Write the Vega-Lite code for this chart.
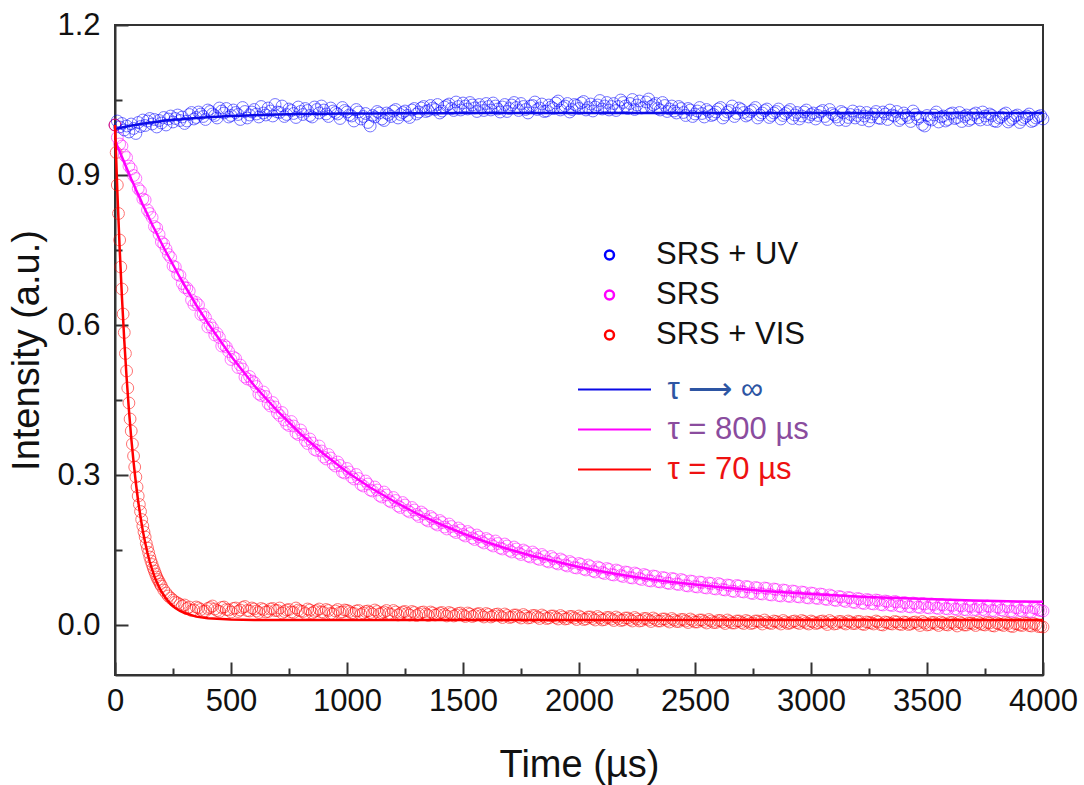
{
  "$schema": "https://vega.github.io/schema/vega-lite/v6.json",
  "width": 928,
  "height": 650,
  "autosize": "none",
  "padding": {"left": 115, "top": 25, "right": 41, "bottom": 110},
  "background": "white",
  "config": {
    "view": {"stroke": "#333333", "strokeWidth": 2},
    "font": "Liberation Sans",
    "axis": {"labelFont": "Liberation Sans", "titleFont": "Liberation Sans", "labelColor": "#111111", "titleColor": "#111111", "titleFontWeight": "normal", "grid": false, "domainColor": "#333333", "domainWidth": 2, "tickColor": "#333333", "tickWidth": 2, "labelFontSize": 31, "titleFontSize": 38},
    "legend": {"labelFont": "Liberation Sans", "labelFontSize": 31, "padding": 0}
  },
  "datasets": {
    "pts": [
      {"t":0,"b":1.000,"m":1.000,"r":1.000},
      {"t":5,"r":0.945},
      {"t":10,"b":1.008,"m":0.975,"r":0.880},
      {"t":15,"r":0.823},
      {"t":20,"b":0.996,"m":0.962,"r":0.770},
      {"t":25,"r":0.716},
      {"t":30,"b":1.003,"m":0.958,"r":0.672},
      {"t":35,"r":0.622},
      {"t":40,"b":0.990,"m":0.940,"r":0.585},
      {"t":45,"r":0.543},
      {"t":50,"b":0.998,"m":0.935,"r":0.508},
      {"t":55,"r":0.474},
      {"t":60,"b":0.986,"m":0.918,"r":0.444},
      {"t":65,"r":0.412},
      {"t":70,"b":1.002,"m":0.912,"r":0.388},
      {"t":75,"r":0.362},
      {"t":80,"b":0.993,"m":0.899,"r":0.338},
      {"t":85,"r":0.316},
      {"t":90,"b":0.983,"m":0.893,"r":0.296},
      {"t":95,"r":0.276},
      {"t":100,"b":1.005,"m":0.873,"r":0.258},
      {"t":105,"r":0.241},
      {"t":110,"b":0.997,"m":0.868,"r":0.227},
      {"t":115,"r":0.211},
      {"t":120,"b":1.010,"m":0.852,"r":0.198},
      {"t":125,"r":0.186},
      {"t":130,"b":0.999,"m":0.850,"r":0.176},
      {"t":135,"r":0.163},
      {"t":140,"b":1.008,"m":0.830,"r":0.154},
      {"t":145,"r":0.145},
      {"t":150,"b":1.013,"m":0.823,"r":0.136},
      {"t":155,"r":0.128},
      {"t":160,"b":1.002,"m":0.815,"r":0.121},
      {"t":165,"r":0.114},
      {"t":170,"b":1.011,"m":0.797,"r":0.108},
      {"t":175,"r":0.102},
      {"t":180,"b":0.996,"m":0.794,"r":0.096},
      {"t":185,"r":0.091},
      {"t":190,"b":1.009,"m":0.781,"r":0.087},
      {"t":195,"r":0.082},
      {"t":200,"b":1.004,"m":0.766,"r":0.078},
      {"t":210,"b":1.015,"m":0.762,"r":0.070},
      {"t":220,"b":1.000,"m":0.752,"r":0.064},
      {"t":230,"b":1.012,"m":0.741,"r":0.058},
      {"t":240,"b":1.018,"m":0.735,"r":0.054},
      {"t":250,"b":1.006,"m":0.718,"r":0.050},
      {"t":260,"b":1.013,"m":0.716,"r":0.046},
      {"t":270,"b":1.020,"m":0.701,"r":0.044},
      {"t":280,"b":1.009,"m":0.699,"r":0.041},
      {"t":290,"b":1.016,"m":0.683,"r":0.038},
      {"t":300,"b":1.003,"m":0.675,"r":0.040},
      {"t":320,"b":1.021,"m":0.668,"r":0.036},
      {"t":340,"b":1.012,"m":0.641,"r":0.030},
      {"t":360,"b":1.026,"m":0.640,"r":0.034},
      {"t":380,"b":1.017,"m":0.622,"r":0.027},
      {"t":400,"b":1.030,"m":0.596,"r":0.033},
      {"t":420,"b":1.022,"m":0.594,"r":0.038},
      {"t":440,"b":1.014,"m":0.583,"r":0.029},
      {"t":460,"b":1.028,"m":0.558,"r":0.035},
      {"t":480,"b":1.033,"m":0.556,"r":0.031},
      {"t":500,"b":1.019,"m":0.531,"r":0.026},
      {"t":520,"b":1.025,"m":0.533,"r":0.034},
      {"t":540,"b":1.011,"m":0.520,"r":0.030},
      {"t":560,"b":1.027,"m":0.496,"r":0.037},
      {"t":580,"b":1.020,"m":0.497,"r":0.028},
      {"t":600,"b":1.031,"m":0.485,"r":0.032},
      {"t":620,"b":1.016,"m":0.462,"r":0.025},
      {"t":640,"b":1.024,"m":0.466,"r":0.031},
      {"t":660,"b":1.034,"m":0.443,"r":0.027},
      {"t":680,"b":1.018,"m":0.445,"r":0.033},
      {"t":700,"b":1.026,"m":0.424,"r":0.029},
      {"t":720,"b":1.038,"m":0.425,"r":0.024},
      {"t":740,"b":1.021,"m":0.402,"r":0.030},
      {"t":760,"b":1.029,"m":0.407,"r":0.026},
      {"t":780,"b":1.015,"m":0.384,"r":0.034},
      {"t":800,"b":1.027,"m":0.390,"r":0.028},
      {"t":820,"b":1.033,"m":0.369,"r":0.023},
      {"t":840,"b":1.019,"m":0.372,"r":0.030},
      {"t":860,"b":1.036,"m":0.351,"r":0.027},
      {"t":880,"b":1.024,"m":0.358,"r":0.032},
      {"t":900,"b":1.030,"m":0.336,"r":0.025},
      {"t":920,"b":1.017,"m":0.341,"r":0.029},
      {"t":940,"b":1.028,"m":0.322,"r":0.022},
      {"t":960,"b":1.022,"m":0.326,"r":0.031},
      {"t":980,"b":1.035,"m":0.306,"r":0.026},
      {"t":1000,"b":1.026,"m":0.313,"r":0.029},
      {"t":1020,"b":1.018,"m":0.296,"r":0.024},
      {"t":1040,"b":1.031,"m":0.301,"r":0.028},
      {"t":1060,"b":1.012,"m":0.281,"r":0.021},
      {"t":1080,"b":1.023,"m":0.288,"r":0.027},
      {"t":1100,"b":0.998,"m":0.270,"r":0.025},
      {"t":1120,"b":1.016,"m":0.276,"r":0.030},
      {"t":1140,"b":1.024,"m":0.259,"r":0.022},
      {"t":1160,"b":1.009,"m":0.266,"r":0.026},
      {"t":1180,"b":1.021,"m":0.249,"r":0.023},
      {"t":1200,"b":1.028,"m":0.255,"r":0.029},
      {"t":1220,"b":1.014,"m":0.238,"r":0.020},
      {"t":1240,"b":1.025,"m":0.245,"r":0.026},
      {"t":1260,"b":1.019,"m":0.229,"r":0.023},
      {"t":1280,"b":1.030,"m":0.235,"r":0.027},
      {"t":1300,"b":1.022,"m":0.221,"r":0.019},
      {"t":1320,"b":1.034,"m":0.226,"r":0.025},
      {"t":1340,"b":1.027,"m":0.211,"r":0.022},
      {"t":1360,"b":1.039,"m":0.217,"r":0.026},
      {"t":1380,"b":1.031,"m":0.203,"r":0.020},
      {"t":1400,"b":1.024,"m":0.209,"r":0.024},
      {"t":1420,"b":1.036,"m":0.196,"r":0.021},
      {"t":1440,"b":1.042,"m":0.202,"r":0.025},
      {"t":1460,"b":1.029,"m":0.188,"r":0.018},
      {"t":1480,"b":1.037,"m":0.194,"r":0.023},
      {"t":1500,"b":1.044,"m":0.181,"r":0.020},
      {"t":1520,"b":1.032,"m":0.187,"r":0.024},
      {"t":1540,"b":1.040,"m":0.174,"r":0.017},
      {"t":1560,"b":1.027,"m":0.180,"r":0.022},
      {"t":1580,"b":1.035,"m":0.167,"r":0.019},
      {"t":1600,"b":1.043,"m":0.173,"r":0.023},
      {"t":1620,"b":1.030,"m":0.161,"r":0.016},
      {"t":1640,"b":1.038,"m":0.168,"r":0.021},
      {"t":1660,"b":1.026,"m":0.154,"r":0.018},
      {"t":1680,"b":1.041,"m":0.162,"r":0.022},
      {"t":1700,"b":1.033,"m":0.149,"r":0.015},
      {"t":1720,"b":1.045,"m":0.156,"r":0.020},
      {"t":1740,"b":1.029,"m":0.144,"r":0.017},
      {"t":1760,"b":1.037,"m":0.150,"r":0.021},
      {"t":1780,"b":1.024,"m":0.138,"r":0.014},
      {"t":1800,"b":1.039,"m":0.146,"r":0.019},
      {"t":1820,"b":1.031,"m":0.133,"r":0.016},
      {"t":1840,"b":1.042,"m":0.141,"r":0.020},
      {"t":1860,"b":1.028,"m":0.128,"r":0.013},
      {"t":1880,"b":1.036,"m":0.137,"r":0.018},
      {"t":1900,"b":1.044,"m":0.124,"r":0.015},
      {"t":1920,"b":1.030,"m":0.132,"r":0.019},
      {"t":1940,"b":1.038,"m":0.120,"r":0.012},
      {"t":1960,"b":1.026,"m":0.127,"r":0.017},
      {"t":1980,"b":1.041,"m":0.115,"r":0.014},
      {"t":2000,"b":1.033,"m":0.123,"r":0.018},
      {"t":2020,"b":1.047,"m":0.112,"r":0.011},
      {"t":2040,"b":1.035,"m":0.120,"r":0.016},
      {"t":2060,"b":1.028,"m":0.108,"r":0.013},
      {"t":2080,"b":1.040,"m":0.116,"r":0.017},
      {"t":2100,"b":1.032,"m":0.105,"r":0.010},
      {"t":2120,"b":1.045,"m":0.113,"r":0.015},
      {"t":2140,"b":1.037,"m":0.101,"r":0.012},
      {"t":2160,"b":1.029,"m":0.110,"r":0.016},
      {"t":2180,"b":1.050,"m":0.099,"r":0.009},
      {"t":2200,"b":1.038,"m":0.106,"r":0.014},
      {"t":2220,"b":1.043,"m":0.095,"r":0.011},
      {"t":2240,"b":1.031,"m":0.104,"r":0.015},
      {"t":2260,"b":1.048,"m":0.093,"r":0.008},
      {"t":2280,"b":1.036,"m":0.101,"r":0.013},
      {"t":2300,"b":1.052,"m":0.089,"r":0.010},
      {"t":2320,"b":1.040,"m":0.098,"r":0.014},
      {"t":2340,"b":1.033,"m":0.087,"r":0.008},
      {"t":2360,"b":1.045,"m":0.095,"r":0.012},
      {"t":2380,"b":1.027,"m":0.084,"r":0.009},
      {"t":2400,"b":1.038,"m":0.093,"r":0.013},
      {"t":2420,"b":1.024,"m":0.082,"r":0.007},
      {"t":2440,"b":1.033,"m":0.091,"r":0.011},
      {"t":2460,"b":1.019,"m":0.079,"r":0.008},
      {"t":2480,"b":1.030,"m":0.088,"r":0.012},
      {"t":2500,"b":1.022,"m":0.077,"r":0.006},
      {"t":2520,"b":1.035,"m":0.086,"r":0.010},
      {"t":2540,"b":1.016,"m":0.075,"r":0.007},
      {"t":2560,"b":1.027,"m":0.084,"r":0.011},
      {"t":2580,"b":1.021,"m":0.073,"r":0.005},
      {"t":2600,"b":1.032,"m":0.083,"r":0.009},
      {"t":2620,"b":1.014,"m":0.071,"r":0.006},
      {"t":2640,"b":1.026,"m":0.080,"r":0.010},
      {"t":2660,"b":1.038,"m":0.068,"r":0.004},
      {"t":2680,"b":1.023,"m":0.079,"r":0.008},
      {"t":2700,"b":1.031,"m":0.067,"r":0.005},
      {"t":2720,"b":1.018,"m":0.077,"r":0.009},
      {"t":2740,"b":1.027,"m":0.064,"r":0.003},
      {"t":2760,"b":1.035,"m":0.075,"r":0.008},
      {"t":2780,"b":1.020,"m":0.063,"r":0.006},
      {"t":2800,"b":1.029,"m":0.074,"r":0.010},
      {"t":2820,"b":1.015,"m":0.061,"r":0.004},
      {"t":2840,"b":1.024,"m":0.072,"r":0.008},
      {"t":2860,"b":1.032,"m":0.059,"r":0.005},
      {"t":2880,"b":1.019,"m":0.070,"r":0.009},
      {"t":2900,"b":1.027,"m":0.058,"r":0.003},
      {"t":2920,"b":1.013,"m":0.068,"r":0.007},
      {"t":2940,"b":1.025,"m":0.057,"r":0.005},
      {"t":2960,"b":1.018,"m":0.066,"r":0.009},
      {"t":2980,"b":1.030,"m":0.055,"r":0.004},
      {"t":3000,"b":1.021,"m":0.064,"r":0.008},
      {"t":3020,"b":1.012,"m":0.054,"r":0.003},
      {"t":3040,"b":1.026,"m":0.062,"r":0.007},
      {"t":3060,"b":1.017,"m":0.052,"r":0.005},
      {"t":3080,"b":1.031,"m":0.060,"r":0.009},
      {"t":3100,"b":1.020,"m":0.050,"r":0.002},
      {"t":3120,"b":1.010,"m":0.057,"r":0.007},
      {"t":3140,"b":1.024,"m":0.049,"r":0.004},
      {"t":3160,"b":1.015,"m":0.055,"r":0.008},
      {"t":3180,"b":1.028,"m":0.046,"r":0.003},
      {"t":3200,"b":1.019,"m":0.053,"r":0.007},
      {"t":3220,"b":1.011,"m":0.044,"r":0.002},
      {"t":3240,"b":1.025,"m":0.051,"r":0.006},
      {"t":3260,"b":1.016,"m":0.043,"r":0.004},
      {"t":3280,"b":1.027,"m":0.050,"r":0.008},
      {"t":3300,"b":1.013,"m":0.041,"r":0.001},
      {"t":3320,"b":1.022,"m":0.048,"r":0.006},
      {"t":3340,"b":1.030,"m":0.040,"r":0.003},
      {"t":3360,"b":1.018,"m":0.047,"r":0.007},
      {"t":3380,"b":1.009,"m":0.038,"r":0.002},
      {"t":3400,"b":1.024,"m":0.045,"r":0.006},
      {"t":3420,"b":1.015,"m":0.037,"r":0.001},
      {"t":3440,"b":1.028,"m":0.044,"r":0.005},
      {"t":3460,"b":1.012,"m":0.036,"r":0.003},
      {"t":3480,"b":1.001,"m":0.043,"r":0.007},
      {"t":3500,"b":1.019,"m":0.035,"r":0.000},
      {"t":3520,"b":1.010,"m":0.042,"r":0.005},
      {"t":3540,"b":1.026,"m":0.034,"r":0.002},
      {"t":3560,"b":1.016,"m":0.041,"r":0.006},
      {"t":3580,"b":1.008,"m":0.033,"r":0.001},
      {"t":3600,"b":1.022,"m":0.040,"r":0.005},
      {"t":3620,"b":1.013,"m":0.032,"r":0.002},
      {"t":3640,"b":1.025,"m":0.039,"r":0.006},
      {"t":3660,"b":1.017,"m":0.031,"r":0.000},
      {"t":3680,"b":1.009,"m":0.038,"r":0.004},
      {"t":3700,"b":1.021,"m":0.030,"r":0.002},
      {"t":3720,"b":1.014,"m":0.037,"r":0.006},
      {"t":3740,"b":1.026,"m":0.031,"r":0.001},
      {"t":3760,"b":1.011,"m":0.038,"r":0.005},
      {"t":3780,"b":1.019,"m":0.029,"r":-0.001},
      {"t":3800,"b":1.007,"m":0.036,"r":0.004},
      {"t":3820,"b":1.016,"m":0.030,"r":0.001},
      {"t":3840,"b":1.024,"m":0.037,"r":0.005},
      {"t":3860,"b":1.010,"m":0.028,"r":-0.002},
      {"t":3880,"b":1.018,"m":0.035,"r":0.003},
      {"t":3900,"b":1.005,"m":0.029,"r":0.000},
      {"t":3920,"b":1.015,"m":0.036,"r":0.004},
      {"t":3940,"b":1.022,"m":0.027,"r":-0.001},
      {"t":3960,"b":1.009,"m":0.034,"r":0.003},
      {"t":3980,"b":1.017,"m":0.030,"r":-0.003},
      {"t":4000,"b":1.012,"m":0.028,"r":-0.004},
      {"t":310,"b":1.008,"m":0.674,"r":0.033},
      {"t":330,"b":1.025,"m":0.650,"r":0.029},
      {"t":350,"b":1.015,"m":0.645,"r":0.036},
      {"t":370,"b":1.022,"m":0.621,"r":0.031},
      {"t":390,"b":1.011,"m":0.615,"r":0.028},
      {"t":410,"b":1.027,"m":0.601,"r":0.035},
      {"t":430,"b":1.019,"m":0.580,"r":0.032},
      {"t":450,"b":1.034,"m":0.575,"r":0.027},
      {"t":470,"b":1.024,"m":0.560,"r":0.036},
      {"t":490,"b":1.016,"m":0.547,"r":0.030},
      {"t":510,"b":1.030,"m":0.536,"r":0.033},
      {"t":530,"b":1.021,"m":0.515,"r":0.027},
      {"t":550,"b":1.035,"m":0.512,"r":0.035},
      {"t":570,"b":1.014,"m":0.492,"r":0.029},
      {"t":590,"b":1.026,"m":0.488,"r":0.034},
      {"t":610,"b":1.022,"m":0.477,"r":0.028},
      {"t":630,"b":1.037,"m":0.459,"r":0.033},
      {"t":650,"b":1.020,"m":0.457,"r":0.026},
      {"t":670,"b":1.028,"m":0.438,"r":0.032},
      {"t":690,"b":1.041,"m":0.436,"r":0.029},
      {"t":710,"b":1.025,"m":0.419,"r":0.034},
      {"t":730,"b":1.017,"m":0.410,"r":0.027},
      {"t":750,"b":1.032,"m":0.399,"r":0.031},
      {"t":770,"b":1.023,"m":0.398,"r":0.025},
      {"t":790,"b":1.036,"m":0.381,"r":0.030},
      {"t":810,"b":1.021,"m":0.381,"r":0.027},
      {"t":830,"b":1.029,"m":0.363,"r":0.032},
      {"t":850,"b":1.016,"m":0.364,"r":0.024},
      {"t":870,"b":1.031,"m":0.349,"r":0.029},
      {"t":890,"b":1.038,"m":0.348,"r":0.026},
      {"t":910,"b":1.022,"m":0.332,"r":0.031},
      {"t":930,"b":1.034,"m":0.334,"r":0.023},
      {"t":950,"b":1.025,"m":0.318,"r":0.028},
      {"t":970,"b":1.013,"m":0.319,"r":0.025},
      {"t":990,"b":1.029,"m":0.304,"r":0.030},
      {"t":1010,"b":1.020,"m":0.306,"r":0.027},
      {"t":1030,"b":1.008,"m":0.292,"r":0.023},
      {"t":1050,"b":1.026,"m":0.293,"r":0.029},
      {"t":1070,"b":1.017,"m":0.278,"r":0.024},
      {"t":1090,"b":1.005,"m":0.282,"r":0.028},
      {"t":1110,"b":1.019,"m":0.268,"r":0.022},
      {"t":1130,"b":1.027,"m":0.270,"r":0.027},
      {"t":1150,"b":1.012,"m":0.256,"r":0.024},
      {"t":1170,"b":1.024,"m":0.260,"r":0.029},
      {"t":1190,"b":1.017,"m":0.246,"r":0.021},
      {"t":1210,"b":1.031,"m":0.249,"r":0.026},
      {"t":1230,"b":1.021,"m":0.235,"r":0.023},
      {"t":1250,"b":1.028,"m":0.240,"r":0.027},
      {"t":1270,"b":1.015,"m":0.226,"r":0.020},
      {"t":1290,"b":1.033,"m":0.230,"r":0.025},
      {"t":1310,"b":1.026,"m":0.217,"r":0.022},
      {"t":1330,"b":1.037,"m":0.222,"r":0.026},
      {"t":1350,"b":1.029,"m":0.208,"r":0.019},
      {"t":1370,"b":1.034,"m":0.213,"r":0.024},
      {"t":1390,"b":1.041,"m":0.200,"r":0.021},
      {"t":1410,"b":1.028,"m":0.205,"r":0.025},
      {"t":1430,"b":1.039,"m":0.192,"r":0.018},
      {"t":1450,"b":1.033,"m":0.197,"r":0.023},
      {"t":1470,"b":1.046,"m":0.185,"r":0.020},
      {"t":1490,"b":1.030,"m":0.190,"r":0.024},
      {"t":1510,"b":1.038,"m":0.178,"r":0.017},
      {"t":1530,"b":1.045,"m":0.183,"r":0.022},
      {"t":1550,"b":1.034,"m":0.171,"r":0.019},
      {"t":1570,"b":1.041,"m":0.176,"r":0.023},
      {"t":1590,"b":1.029,"m":0.164,"r":0.016},
      {"t":1610,"b":1.037,"m":0.170,"r":0.021},
      {"t":1630,"b":1.044,"m":0.158,"r":0.018},
      {"t":1650,"b":1.032,"m":0.163,"r":0.022},
      {"t":1670,"b":1.036,"m":0.152,"r":0.015},
      {"t":1690,"b":1.027,"m":0.158,"r":0.019},
      {"t":1710,"b":1.040,"m":0.146,"r":0.016},
      {"t":1730,"b":1.035,"m":0.152,"r":0.020},
      {"t":1750,"b":1.043,"m":0.141,"r":0.014},
      {"t":1770,"b":1.031,"m":0.147,"r":0.018},
      {"t":1790,"b":1.038,"m":0.136,"r":0.015},
      {"t":1810,"b":1.046,"m":0.142,"r":0.019},
      {"t":1830,"b":1.034,"m":0.131,"r":0.013},
      {"t":1850,"b":1.027,"m":0.137,"r":0.017},
      {"t":1870,"b":1.040,"m":0.126,"r":0.014},
      {"t":1890,"b":1.033,"m":0.133,"r":0.018},
      {"t":1910,"b":1.048,"m":0.122,"r":0.012},
      {"t":1930,"b":1.035,"m":0.129,"r":0.016},
      {"t":1950,"b":1.043,"m":0.118,"r":0.013},
      {"t":1970,"b":1.031,"m":0.124,"r":0.017},
      {"t":1990,"b":1.039,"m":0.114,"r":0.011},
      {"t":2010,"b":1.044,"m":0.121,"r":0.015},
      {"t":2030,"b":1.030,"m":0.110,"r":0.012},
      {"t":2050,"b":1.042,"m":0.117,"r":0.016},
      {"t":2070,"b":1.036,"m":0.106,"r":0.010},
      {"t":2090,"b":1.049,"m":0.114,"r":0.014},
      {"t":2110,"b":1.038,"m":0.103,"r":0.011},
      {"t":2130,"b":1.030,"m":0.111,"r":0.015},
      {"t":2150,"b":1.043,"m":0.100,"r":0.009},
      {"t":2170,"b":1.037,"m":0.108,"r":0.013},
      {"t":2190,"b":1.045,"m":0.097,"r":0.010},
      {"t":2210,"b":1.033,"m":0.105,"r":0.014},
      {"t":2230,"b":1.051,"m":0.094,"r":0.008},
      {"t":2250,"b":1.040,"m":0.102,"r":0.012},
      {"t":2270,"b":1.034,"m":0.091,"r":0.009},
      {"t":2290,"b":1.046,"m":0.099,"r":0.013},
      {"t":2310,"b":1.037,"m":0.088,"r":0.007},
      {"t":2330,"b":1.043,"m":0.097,"r":0.011},
      {"t":2350,"b":1.030,"m":0.086,"r":0.008},
      {"t":2370,"b":1.039,"m":0.094,"r":0.012},
      {"t":2390,"b":1.032,"m":0.083,"r":0.006},
      {"t":2410,"b":1.028,"m":0.092,"r":0.010},
      {"t":2430,"b":1.037,"m":0.081,"r":0.007},
      {"t":2450,"b":1.025,"m":0.089,"r":0.011},
      {"t":2470,"b":1.033,"m":0.078,"r":0.005},
      {"t":2490,"b":1.017,"m":0.087,"r":0.009},
      {"t":2510,"b":1.028,"m":0.076,"r":0.006},
      {"t":2530,"b":1.023,"m":0.085,"r":0.010},
      {"t":2550,"b":1.031,"m":0.074,"r":0.004},
      {"t":2570,"b":1.019,"m":0.083,"r":0.008},
      {"t":2590,"b":1.026,"m":0.072,"r":0.005},
      {"t":2610,"b":1.035,"m":0.081,"r":0.009},
      {"t":2630,"b":1.020,"m":0.070,"r":0.003},
      {"t":2650,"b":1.029,"m":0.079,"r":0.007},
      {"t":2670,"b":1.017,"m":0.067,"r":0.004},
      {"t":2690,"b":1.034,"m":0.078,"r":0.008},
      {"t":2710,"b":1.025,"m":0.066,"r":0.003},
      {"t":2730,"b":1.021,"m":0.076,"r":0.007},
      {"t":2750,"b":1.030,"m":0.063,"r":0.004},
      {"t":2770,"b":1.014,"m":0.074,"r":0.008},
      {"t":2790,"b":1.024,"m":0.062,"r":0.002},
      {"t":2810,"b":1.032,"m":0.073,"r":0.006},
      {"t":2830,"b":1.019,"m":0.060,"r":0.003},
      {"t":2850,"b":1.027,"m":0.071,"r":0.007},
      {"t":2870,"b":1.012,"m":0.058,"r":0.002},
      {"t":2890,"b":1.023,"m":0.069,"r":0.006},
      {"t":2910,"b":1.031,"m":0.057,"r":0.004},
      {"t":2930,"b":1.020,"m":0.067,"r":0.008},
      {"t":2950,"b":1.012,"m":0.056,"r":0.003},
      {"t":2970,"b":1.026,"m":0.065,"r":0.007},
      {"t":2990,"b":1.016,"m":0.054,"r":0.002},
      {"t":3010,"b":1.024,"m":0.063,"r":0.006},
      {"t":3030,"b":1.019,"m":0.053,"r":0.004},
      {"t":3050,"b":1.029,"m":0.061,"r":0.008},
      {"t":3070,"b":1.011,"m":0.051,"r":0.001},
      {"t":3090,"b":1.023,"m":0.058,"r":0.006},
      {"t":3110,"b":1.016,"m":0.049,"r":0.003},
      {"t":3130,"b":1.027,"m":0.056,"r":0.007},
      {"t":3150,"b":1.009,"m":0.047,"r":0.002},
      {"t":3170,"b":1.021,"m":0.054,"r":0.006},
      {"t":3190,"b":1.014,"m":0.045,"r":0.003},
      {"t":3210,"b":1.026,"m":0.052,"r":0.007},
      {"t":3230,"b":1.018,"m":0.043,"r":0.001},
      {"t":3250,"b":1.008,"m":0.050,"r":0.005},
      {"t":3270,"b":1.022,"m":0.042,"r":0.002},
      {"t":3290,"b":1.014,"m":0.049,"r":0.006},
      {"t":3310,"b":1.026,"m":0.040,"r":0.000},
      {"t":3330,"b":1.011,"m":0.047,"r":0.005},
      {"t":3350,"b":1.020,"m":0.039,"r":0.002},
      {"t":3370,"b":1.027,"m":0.046,"r":0.006},
      {"t":3390,"b":1.013,"m":0.037,"r":0.001},
      {"t":3410,"b":1.019,"m":0.044,"r":0.005},
      {"t":3430,"b":1.007,"m":0.036,"r":0.002},
      {"t":3450,"b":1.021,"m":0.043,"r":0.006},
      {"t":3470,"b":1.016,"m":0.035,"r":-0.001},
      {"t":3490,"b":0.998,"m":0.042,"r":0.004},
      {"t":3510,"b":1.012,"m":0.034,"r":0.001},
      {"t":3530,"b":1.020,"m":0.041,"r":0.005},
      {"t":3550,"b":1.006,"m":0.033,"r":-0.001},
      {"t":3570,"b":1.018,"m":0.040,"r":0.004},
      {"t":3590,"b":1.011,"m":0.032,"r":0.000},
      {"t":3610,"b":1.024,"m":0.039,"r":0.005},
      {"t":3630,"b":1.015,"m":0.031,"r":-0.002},
      {"t":3650,"b":1.007,"m":0.038,"r":0.003},
      {"t":3670,"b":1.020,"m":0.030,"r":0.000},
      {"t":3690,"b":1.012,"m":0.037,"r":0.004},
      {"t":3710,"b":1.024,"m":0.031,"r":-0.001},
      {"t":3730,"b":1.010,"m":0.036,"r":0.003},
      {"t":3750,"b":1.018,"m":0.029,"r":0.000},
      {"t":3770,"b":1.022,"m":0.037,"r":0.004},
      {"t":3790,"b":1.008,"m":0.028,"r":-0.002},
      {"t":3810,"b":1.014,"m":0.035,"r":0.002},
      {"t":3830,"b":1.021,"m":0.029,"r":-0.001},
      {"t":3850,"b":1.006,"m":0.036,"r":0.003},
      {"t":3870,"b":1.013,"m":0.027,"r":-0.003},
      {"t":3890,"b":1.020,"m":0.034,"r":0.002},
      {"t":3910,"b":1.011,"m":0.028,"r":-0.001},
      {"t":3930,"b":1.018,"m":0.035,"r":0.003},
      {"t":3950,"b":1.007,"m":0.026,"r":-0.002},
      {"t":3970,"b":1.014,"m":0.033,"r":0.001},
      {"t":3990,"b":1.019,"m":0.029,"r":-0.003}
    ],
    "fit": [
      {"t":0,"fb":0.992,"fm":0.970,"fr":1.000},
      {"t":10,"fb":0.993,"fm":0.958,"fr":0.868},
      {"t":20,"fb":0.994,"fm":0.947,"fr":0.754},
      {"t":30,"fb":0.995,"fm":0.936,"fr":0.655},
      {"t":40,"fb":0.996,"fm":0.925,"fr":0.569},
      {"t":50,"fb":0.997,"fm":0.914,"fr":0.495},
      {"t":60,"fb":0.998,"fm":0.903,"fr":0.430},
      {"t":70,"fb":0.999,"fm":0.892,"fr":0.374},
      {"t":80,"fb":0.9995,"fm":0.882,"fr":0.326},
      {"t":90,"fb":1.000,"fm":0.871,"fr":0.284},
      {"t":100,"fb":1.001,"fm":0.861,"fr":0.247},
      {"t":110,"fb":1.002,"fm":0.851,"fr":0.216},
      {"t":120,"fb":1.003,"fm":0.840,"fr":0.188},
      {"t":130,"fb":1.003,"fm":0.831,"fr":0.165},
      {"t":140,"fb":1.004,"fm":0.821,"fr":0.144},
      {"t":150,"fb":1.005,"fm":0.811,"fr":0.126},
      {"t":160,"fb":1.005,"fm":0.801,"fr":0.111},
      {"t":170,"fb":1.006,"fm":0.792,"fr":0.097},
      {"t":180,"fb":1.006,"fm":0.783,"fr":0.086},
      {"t":190,"fb":1.007,"fm":0.773,"fr":0.076},
      {"t":200,"fb":1.008,"fm":0.764,"fr":0.067},
      {"t":220,"fb":1.009,"fm":0.746,"fr":0.053},
      {"t":240,"fb":1.010,"fm":0.729,"fr":0.042},
      {"t":260,"fb":1.011,"fm":0.712,"fr":0.034},
      {"t":280,"fb":1.011,"fm":0.695,"fr":0.028},
      {"t":300,"fb":1.012,"fm":0.679,"fr":0.024},
      {"t":350,"fb":1.014,"fm":0.640,"fr":0.0167},
      {"t":400,"fb":1.0156,"fm":0.604,"fr":0.0133},
      {"t":500,"fb":1.018,"fm":0.538,"fr":0.0108},
      {"t":600,"fb":1.0197,"fm":0.479,"fr":0.0102},
      {"t":700,"fb":1.0209,"fm":0.428,"fr":0.010},
      {"t":800,"fb":1.0218,"fm":0.382,"fr":0.010},
      {"t":900,"fb":1.0224,"fm":0.342,"fr":0.010},
      {"t":1000,"fb":1.0229,"fm":0.306,"fr":0.010},
      {"t":1100,"fb":1.0232,"fm":0.275,"fr":0.010},
      {"t":1200,"fb":1.0234,"fm":0.248,"fr":0.010},
      {"t":1300,"fb":1.0236,"fm":0.223,"fr":0.010},
      {"t":1400,"fb":1.0237,"fm":0.202,"fr":0.010},
      {"t":1500,"fb":1.0238,"fm":0.183,"fr":0.010},
      {"t":1600,"fb":1.0239,"fm":0.166,"fr":0.010},
      {"t":1700,"fb":1.0239,"fm":0.151,"fr":0.010},
      {"t":1800,"fb":1.024,"fm":0.138,"fr":0.010},
      {"t":1900,"fb":1.024,"fm":0.127,"fr":0.010},
      {"t":2000,"fb":1.024,"fm":0.116,"fr":0.010},
      {"t":2100,"fb":1.024,"fm":0.107,"fr":0.010},
      {"t":2200,"fb":1.024,"fm":0.099,"fr":0.010},
      {"t":2300,"fb":1.024,"fm":0.092,"fr":0.010},
      {"t":2400,"fb":1.024,"fm":0.086,"fr":0.010},
      {"t":2500,"fb":1.024,"fm":0.081,"fr":0.010},
      {"t":2600,"fb":1.024,"fm":0.076,"fr":0.010},
      {"t":2700,"fb":1.024,"fm":0.072,"fr":0.010},
      {"t":2800,"fb":1.024,"fm":0.068,"fr":0.010},
      {"t":2900,"fb":1.024,"fm":0.065,"fr":0.010},
      {"t":3000,"fb":1.024,"fm":0.062,"fr":0.010},
      {"t":3100,"fb":1.024,"fm":0.0593,"fr":0.010},
      {"t":3200,"fb":1.024,"fm":0.0570,"fr":0.010},
      {"t":3300,"fb":1.024,"fm":0.0551,"fr":0.010},
      {"t":3400,"fb":1.024,"fm":0.0533,"fr":0.010},
      {"t":3500,"fb":1.024,"fm":0.0518,"fr":0.010},
      {"t":3600,"fb":1.024,"fm":0.0503,"fr":0.010},
      {"t":3700,"fb":1.024,"fm":0.0491,"fr":0.010},
      {"t":3800,"fb":1.024,"fm":0.0480,"fr":0.010},
      {"t":3900,"fb":1.024,"fm":0.0471,"fr":0.010},
      {"t":4000,"fb":1.024,"fm":0.0463,"fr":0.010}
    ]
  },
  "encoding": {
    "x": {
      "field": "t", "type": "quantitative",
      "scale": {"domain": [0, 4000], "nice": false, "zero": false},
      "axis": {
        "title": "Time (µs)",
        "values": [0,250,500,750,1000,1250,1500,1750,2000,2250,2500,2750,3000,3250,3500,3750,4000],
        "labelExpr": "datum.value % 500 === 0 ? datum.label : ''",
        "format": "d",
        "labelFontSize": 31,
        "titleFontSize": 38,
        "tickSize": {"condition": {"test": "datum.value % 500 === 0", "value": -13}, "value": -7},
        "labelPadding": 24,
        "titlePadding": 24,
        "labelFlush": false,
        "labelOverlap": false
      }
    },
    "y": {
      "field": "v", "type": "quantitative",
      "scale": {"domain": [-0.1, 1.2], "nice": false, "zero": false},
      "axis": {
        "title": "Intensity (a.u.)",
        "values": [0,0.15,0.3,0.45,0.6,0.75,0.9,1.05,1.2],
        "format": ".1f",
        "labelFontSize": 31,
        "titleFontSize": 38,
        "labelExpr": "round(datum.value*100) % 30 === 0 ? datum.label : ''",
        "tickSize": {"condition": {"test": "round(datum.value*100) % 30 === 0", "value": -13}, "value": -7},
        "labelPadding": 28,
        "titlePadding": 10,
        "labelFlush": false,
        "labelOverlap": false
      }
    }
  },
  "layer": [
    {
      "data": {"name": "pts"},
      "transform": [
        {"fold": ["b", "m", "r"], "as": ["s", "v"]},
        {"filter": "isValid(datum.v)"}
      ],
      "mark": {"type": "point", "shape": "circle", "filled": false, "size": 140, "strokeWidth": 1, "opacity": 0.55},
      "encoding": {
        "color": {
          "field": "s", "type": "nominal",
          "scale": {"domain": ["b", "m", "r"], "range": ["#0000ff", "#ff00ff", "#ff0000"]},
          "legend": {
            "title": null,
            "orient": "none",
            "legendX": 479,
            "legendY": 214.5,
            "labelExpr": "datum.value === 'b' ? 'SRS + UV' : datum.value === 'm' ? 'SRS' : 'SRS + VIS'",
            "labelColor": "#111111",
            "labelFontSize": 31,
            "symbolType": "circle",
            "symbolSize": 80,
            "symbolStrokeWidth": 2.5,
            "symbolOpacity": 1,
            "symbolFillColor": "transparent",
            "labelOffset": 31,
            "rowPadding": 8
          }
        }
      }
    },
    {
      "data": {"name": "fit"},
      "transform": [
        {"fold": ["fb", "fm", "fr"], "as": ["s", "v"]}
      ],
      "mark": {"type": "line", "strokeWidth": 2.5},
      "encoding": {
        "stroke": {
          "field": "s", "type": "nominal",
          "scale": {"domain": ["fb", "fm", "fr"], "range": ["#0a0ae6", "#ff00ff", "#ff0000"]},
          "legend": {
            "title": null,
            "orient": "none",
            "legendX": 484,
            "legendY": 349,
            "labelExpr": "datum.value === 'fb' ? 'τ ⟶ ∞' : datum.value === 'fm' ? 'τ = 800 µs' : 'τ = 70 µs'",
            "labelFontSize": 31,
            "symbolType": "M-7.3,0H7.3",
            "symbolSize": 100,
            "symbolStrokeWidth": 2,
            "symbolOpacity": 1,
            "labelOffset": 37.5,
            "rowPadding": 8,
            "encode": {
              "labels": {
                "update": {
                  "fill": {"signal": "datum.value === 'fb' ? '#2d55a3' : datum.value === 'fm' ? '#8a4c9e' : '#ee1111'"}
                }
              }
            }
          }
        }
      }
    }
  ]
}
